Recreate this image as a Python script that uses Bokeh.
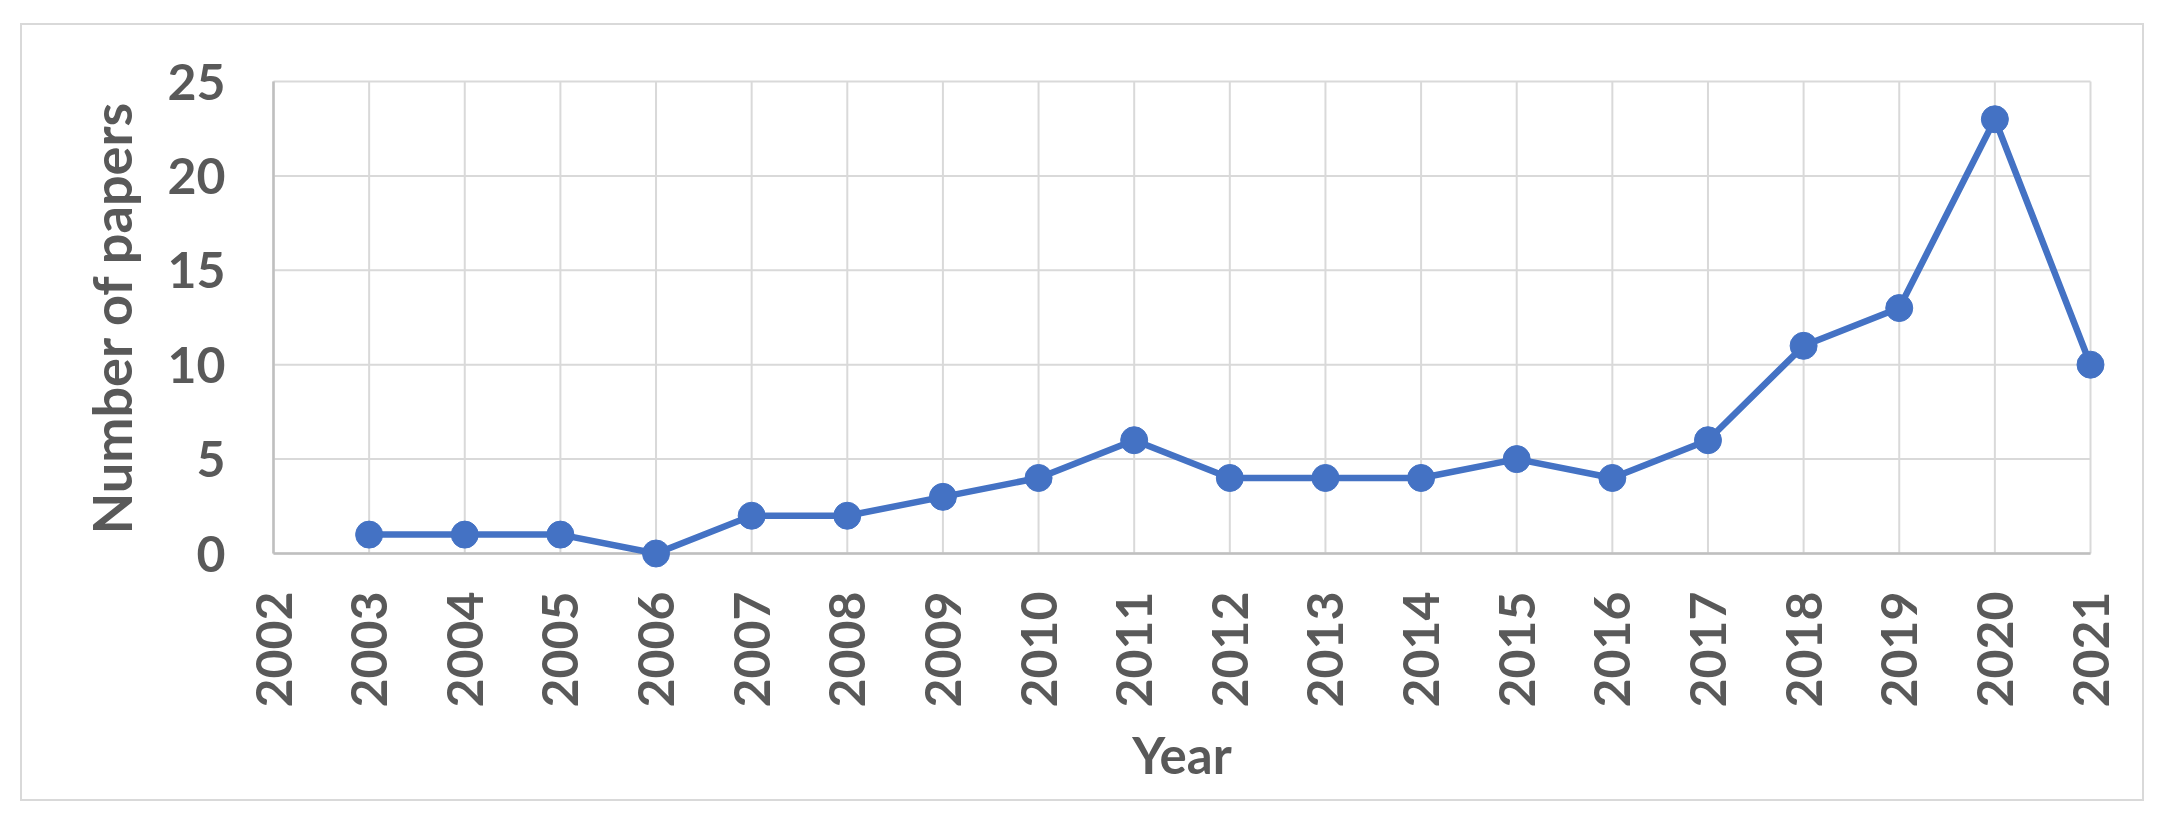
import math
from bokeh.plotting import figure
from bokeh.layouts import column
from bokeh.models import Range1d, FixedTicker, ColumnDataSource
from bokeh.embed import file_html
from bokeh.resources import INLINE

years = [2003, 2004, 2005, 2006, 2007, 2008, 2009, 2010, 2011, 2012,
         2013, 2014, 2015, 2016, 2017, 2018, 2019, 2020, 2021]
papers = [1, 1, 1, 0, 2, 2, 3, 4, 6, 4, 4, 4, 5, 4, 6, 11, 13, 23, 10]
x_ticks = list(range(2002, 2022))
y_ticks = [0, 5, 10, 15, 20, 25]

FONT = "Lato"
TXT = "#595959"
BLUE = "#4472C4"
GRID = "#d9d9d9"
AXIS = "#bfbfbf"

W, H = 2120, 774
PAD = 16
area_left, area_right, area_top, area_bottom = 251, 2068, 56, 528
fl, fr, ft, fb = area_left - PAD, area_right + PAD, area_top - PAD, area_bottom + PAD

x0, x1 = x_ticks[0], x_ticks[-1]
y0, y1 = y_ticks[0], y_ticks[-1]
xpad = PAD * (x1 - x0) / (area_right - area_left)
ypad = PAD * (y1 - y0) / (area_bottom - area_top)

p = figure(width=W, height=H, output_backend="svg", toolbar_location=None,
           x_range=Range1d(x0 - xpad, x1 + xpad), y_range=Range1d(y0 - ypad, y1 + ypad),
           min_border_left=fl, min_border_right=W - fr, min_border_top=ft,
           min_border_bottom=H - fb)
p.background_fill_color = "white"
p.border_fill_color = "white"
p.outline_line_color = None
p.xgrid.visible = False
p.ygrid.visible = False

# gridlines
p.segment(x0=x_ticks, y0=[y0] * len(x_ticks), x1=x_ticks, y1=[y1] * len(x_ticks),
          line_color=GRID, line_width=2)
p.segment(x0=[x0] * len(y_ticks), y0=y_ticks, x1=[x1] * len(y_ticks), y1=y_ticks,
          line_color=GRID, line_width=2)
# axis lines
p.segment(x0=[x0], y0=[y0], x1=[x0], y1=[y1], line_color=AXIS, line_width=2.5)
p.segment(x0=[x0], y0=[y0], x1=[x1], y1=[y0], line_color=AXIS, line_width=2.5)

src = ColumnDataSource(dict(x=years, y=papers))
p.line("x", "y", source=src, line_color=BLUE, line_width=6.5)
p.scatter("x", "y", source=src, size=27, fill_color=BLUE, line_color=BLUE)

p.xaxis.ticker = FixedTicker(ticks=x_ticks)
p.yaxis.ticker = FixedTicker(ticks=y_ticks)

for ax in (p.xaxis, p.yaxis):
    ax.axis_line_color = None
    ax.major_tick_line_color = None
    ax.minor_tick_line_color = None
    ax.major_label_text_font = FONT
    ax.major_label_text_font_style = "bold"
    ax.major_label_text_font_size = "50px"
    ax.major_label_text_color = TXT
    ax.axis_label_text_font = FONT
    ax.axis_label_text_font_style = "bold"
    ax.axis_label_text_color = TXT

p.xaxis.major_label_orientation = math.pi / 2
p.xaxis.major_label_standoff = 16
p.xaxis.axis_label = "Year"
p.xaxis.axis_label_text_font_size = "51px"
p.xaxis.axis_label_standoff = 13
p.yaxis.major_label_standoff = 26
p.yaxis.axis_label = "Number of papers"
p.yaxis.axis_label_text_font_size = "54px"
p.yaxis.axis_label_standoff = 20

root = column(p, margin=(23, 0, 0, 20),
              styles={"border": "2px solid #d9d9d9", "background-color": "white"})

open("out.html", "w").write(file_html(root, INLINE))
